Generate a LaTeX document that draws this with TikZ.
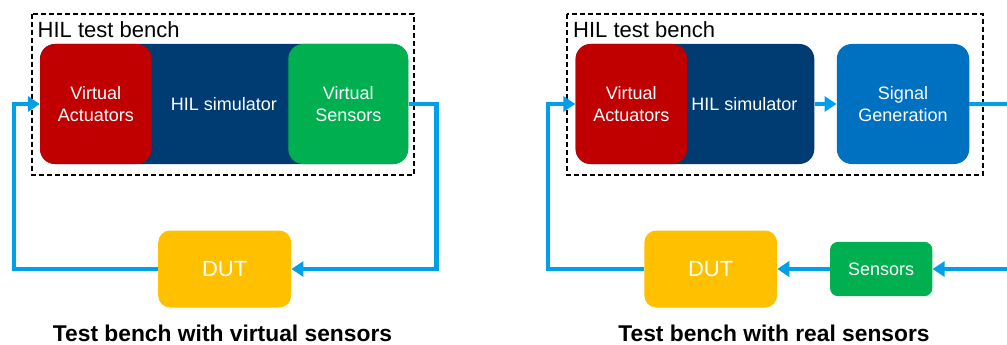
\documentclass[tikz,border=0pt]{standalone}
\usepackage{fontspec}
\setmainfont{Liberation Sans}
\usetikzlibrary{positioning, arrows.meta, calc}

\definecolor{hilred}{HTML}{C00000}
\definecolor{hildark}{HTML}{003C71}
\definecolor{hilgreen}{HTML}{00B050}
\definecolor{hilblue}{HTML}{0070C0}
\definecolor{hilyellow}{HTML}{FFC000}
\definecolor{flowblue}{HTML}{00A0E9}

\begin{document}
\begin{tikzpicture}[
  x=1pt, y=-1pt,
  box/.style={rectangle, rounded corners=15pt, inner sep=0pt, text=white,
    align=center, font=\fontsize{18}{22}\selectfont, minimum height=120pt},
  simbox/.style={box, fill=hildark},
  actbox/.style={box, fill=hilred, minimum width=111.5pt},
  sensbox/.style={box, fill=hilgreen},
  sigbox/.style={box, fill=hilblue, minimum width=132.5pt},
  dutbox/.style={box, fill=hilyellow, rounded corners=12pt, minimum width=133pt,
    minimum height=77pt, font=\fontsize{22}{26}\selectfont},
  benchframe/.style={draw=black, line width=2pt, dash pattern=on 5pt off 3pt},
  benchtitle/.style={anchor=base west, inner sep=0pt, font=\fontsize{22}{26}\selectfont},
  caption/.style={anchor=base, inner sep=0pt, font=\fontsize{22.8}{26}\selectfont\bfseries},
  flow/.style={draw=flowblue, line width=4.6pt, -{Triangle[length=12pt,width=15pt]}}
]
\clip (0,0) rectangle (1007,345);

% left: virtual sensors
\draw[benchframe] (32,14) rectangle (414,175);
\node[benchtitle] (titleA) at (37.5,37.8) {HIL test bench};
\node[simbox, minimum width=368pt] (simA) at (224,104) {HIL simulator};
\node[actbox] (actA) at (95.8,104) {Virtual\\Actuators};
\node[sensbox, minimum width=120pt] (vsA) at (348.3,104) {Virtual\\Sensors};
\node[dutbox] (dutA) at (224.7,269) {DUT};
\coordinate (loopLA) at (14,0);
\coordinate (loopRA) at (436.5,0);

\draw[flow] (vsA.east) -- (vsA.east -| loopRA) |- (dutA.east);
\draw[flow] (dutA.west) -- (dutA.west -| loopLA) |- (actA.west);

\node[caption] (capA) at (222.5,341.5) {Test bench with virtual sensors};

% right: real sensors
\draw[benchframe] (567.3,14) rectangle (983.3,175);
\node[benchtitle] (titleB) at (573,37.8) {HIL test bench};
\node[simbox, minimum width=238.6pt] (simB) at (695,104) {};
\node at (744.5,104) [text=white, font=\fontsize{18}{22}\selectfont] {HIL simulator};
\node[actbox] (actB) at (631.3,104) {Virtual\\Actuators};
\node[sigbox] (sigB) at (903,104) {Signal\\Generation};
\node[dutbox, minimum width=132.7pt] (dutB) at (710.7,269) {DUT};
\node[sensbox, rounded corners=8pt, minimum width=102.3pt, minimum height=54.3pt] (senB) at (881.2,269) {Sensors};
\coordinate (loopLB) at (548,0);
\coordinate (loopRB) at (1020,0);

\draw[flow] (simB.east) -- (sigB.west);
\draw[flow] (sigB.east) -- (sigB.east -| loopRB) |- (senB.east);
\draw[flow] (senB.west) -- (dutB.east);
\draw[flow] (dutB.west) -- (dutB.west -| loopLB) |- (actB.west);

\node[caption] (capB) at (774,341.5) {Test bench with real sensors};

\end{tikzpicture}
\end{document}
